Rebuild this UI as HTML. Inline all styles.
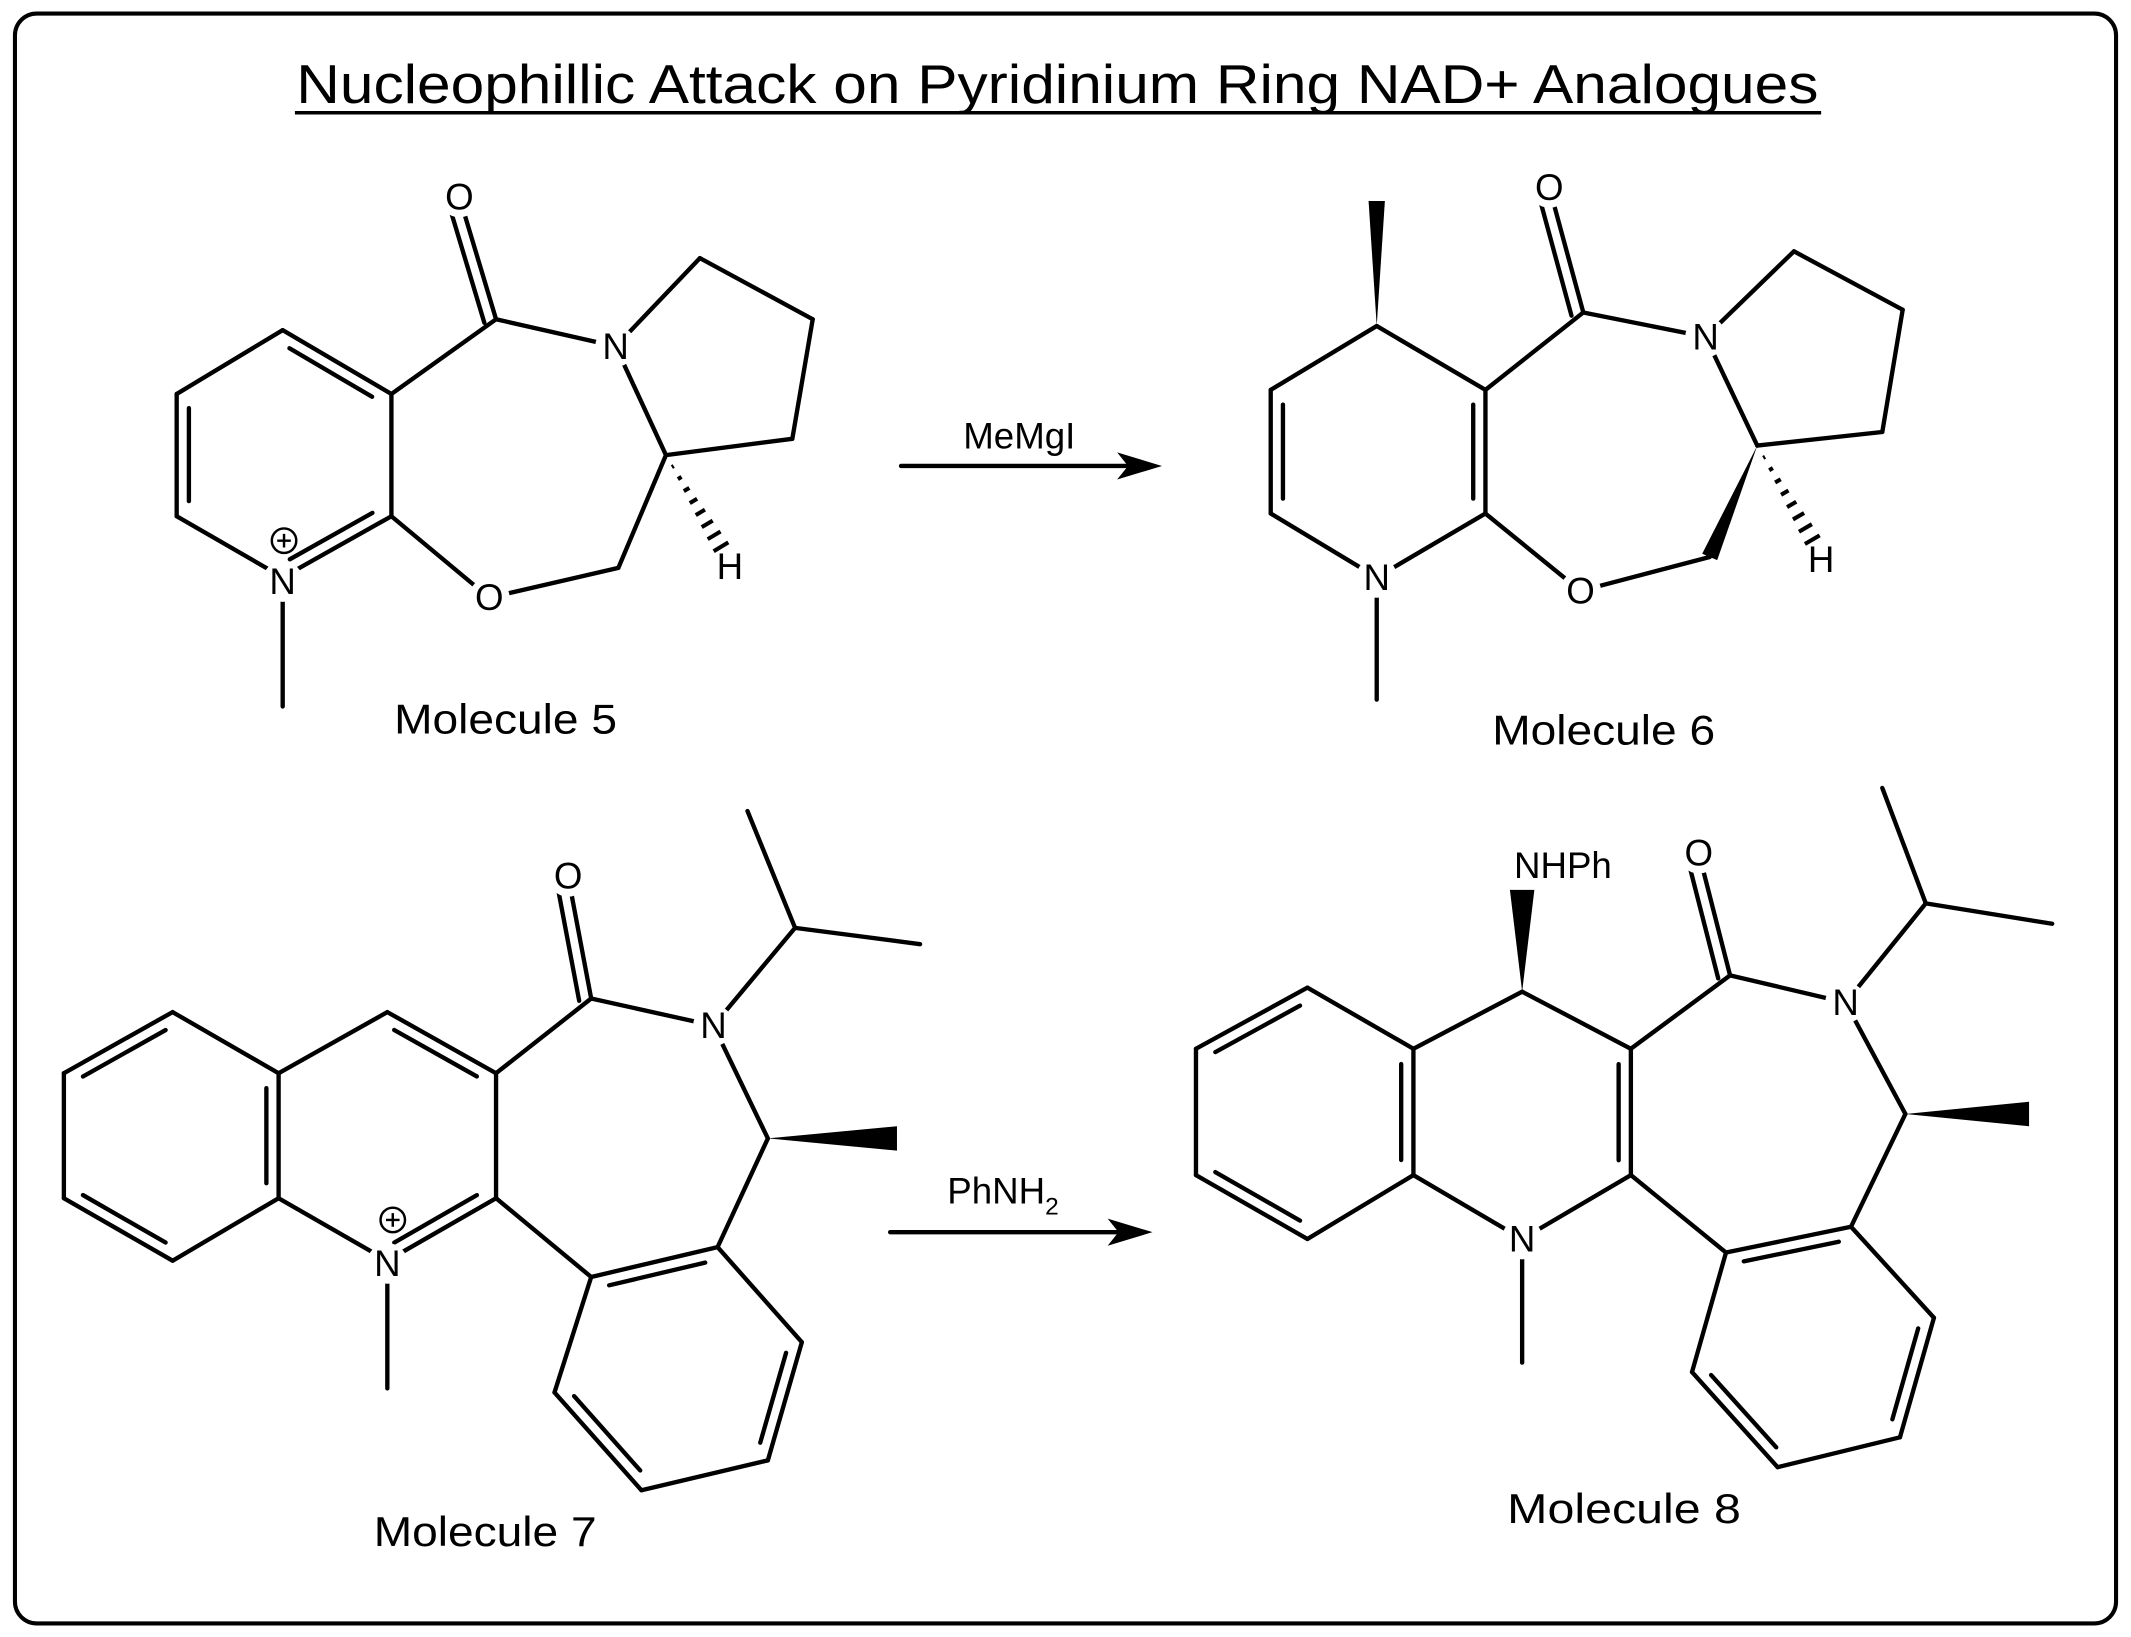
<!DOCTYPE html>
<html><head><meta charset="utf-8"><style>
html,body{margin:0;padding:0;background:#fff}
svg{display:block}
.b{stroke:#000;stroke-width:3.2;fill:none;stroke-linecap:round}
.a{font-family:"Liberation Sans",sans-serif;font-size:27px;fill:#000;text-anchor:middle;dominant-baseline:central}
.l{font-family:"Liberation Sans",sans-serif;font-size:31px;fill:#000;text-anchor:middle}
</style></head><body>
<svg id="s" width="2131" height="1637" viewBox="0 0 1568 1205" preserveAspectRatio="none" xmlns="http://www.w3.org/2000/svg">
<rect x="11" y="10" width="1546" height="1185" rx="16" fill="none" stroke="#000" stroke-width="3"/>
<text x="778" y="76" class="l" style="font-size:40px" textLength="1120" lengthAdjust="spacingAndGlyphs">Nucleophillic Attack on Pyridinium Ring NAD+ Analogues</text>
<line x1="217" y1="83" x2="1340" y2="83" stroke="#000" stroke-width="2.5"/>
<g id="g"></g>
<path class="b" d="M663 343H845"/><path d="M855 343L822 333L830 343L822 353Z"/>
<text x="750" y="330" class="l" style="font-size:27px">MeMgI</text>
<path class="b" d="M655 907H838"/><path d="M848 907L815 897L823 907L815 917Z"/>
<text x="738" y="886" class="l" style="font-size:27px">PhNH<tspan font-size="18" dy="8">2</tspan></text>
<text x="372" y="540" class="l" textLength="164" lengthAdjust="spacingAndGlyphs">Molecule 5</text>
<text x="1180" y="548" class="l" textLength="164" lengthAdjust="spacingAndGlyphs">Molecule 6</text>
<text x="357" y="1138" class="l" textLength="164" lengthAdjust="spacingAndGlyphs">Molecule 7</text>
<text x="1195" y="1121" class="l" textLength="172" lengthAdjust="spacingAndGlyphs">Molecule  8</text>
</svg>
<script>
const g=document.getElementById('g');const NS='http://www.w3.org/2000/svg';
function L(a,b,c,d){const e=document.createElementNS(NS,'line');e.setAttribute('x1',a);e.setAttribute('y1',b);e.setAttribute('x2',c);e.setAttribute('y2',d);e.setAttribute('class','b');g.appendChild(e);}
function P(pts){for(let i=0;i<pts.length-1;i++)L(pts[i][0],pts[i][1],pts[i+1][0],pts[i+1][1]);}
function D(a,b,c,d,cx,cy){let mx=(a+c)/2,my=(b+d)/2,vx=cx-mx,vy=cy-my,n=Math.hypot(vx,vy);vx*=9/n;vy*=9/n;let t=0.12;L(a+(c-a)*t+vx,b+(d-b)*t+vy,c-(c-a)*t+vx,d-(d-b)*t+vy);}
function C(a,b,c,d,s){let dx=c-a,dy=d-b,n=Math.hypot(dx,dy),ox=-dy/n*s,oy=dx/n*s;L(a,b,c,d);L(a+ox,b+oy+0,c+ox,d+oy);}
function W(a,b,c,d,w){let dx=c-a,dy=d-b,n=Math.hypot(dx,dy),ox=-dy/n*w,oy=dx/n*w;const e=document.createElementNS(NS,'polygon');e.setAttribute('points',`${a},${b} ${c+ox},${d+oy} ${c-ox},${d-oy}`);g.appendChild(e);}
function H(a,b,c,d,w){let dx=c-a,dy=d-b,n=Math.hypot(dx,dy),px=-dy/n,py=dx/n;for(let i=1;i<=8;i++){let t=i/8*0.9,x=a+dx*t,y=b+dy*t,h=w*t;const e=document.createElementNS(NS,'line');e.setAttribute('x1',x+px*h);e.setAttribute('y1',y+py*h);e.setAttribute('x2',x-px*h);e.setAttribute('y2',y-py*h);e.setAttribute('stroke','#000');e.setAttribute('stroke-width','3');g.appendChild(e);}}
function T(x,y,s,r){const c=document.createElementNS(NS,'circle');c.setAttribute('cx',x);c.setAttribute('cy',y);c.setAttribute('r',r||15);c.setAttribute('fill','#fff');g.appendChild(c);const e=document.createElementNS(NS,'text');e.setAttribute('x',x);e.setAttribute('y',y);e.setAttribute('class','a');e.textContent=s;g.appendChild(e);return e;}
function PL(x,y){const c=document.createElementNS(NS,'circle');c.setAttribute('cx',x);c.setAttribute('cy',y);c.setAttribute('r',9);c.setAttribute('fill','#fff');c.setAttribute('stroke','#000');c.setAttribute('stroke-width','1.8');g.appendChild(c);const p=document.createElementNS(NS,'path');p.setAttribute('d',`M${x-5} ${y}H${x+5}M${x} ${y-5}V${y+5}`);p.setAttribute('stroke','#000');p.setAttribute('stroke-width','1.8');g.appendChild(p);}
// Molecule 5
P([[208,243],[288,290],[288,380],[208,425],[130,380],[130,290],[208,243]]);
D(208,243,288,290,209,332);D(130,290,130,380,209,332);D(208,425,288,380,209,332);
P([[288,290],[365,235],[453,255]]);C(365,235,338,145,-9);
P([[453,255],[515,190],[598,235],[583,323],[490,335],[453,255]]);
P([[490,335],[455,418],[360,440],[288,380]]);
H(490,335,535,410,7);L(208,425,208,520);
T(338,145,'O');T(453,255,'N');T(360,440,'O');T(208,428,'N');T(537,417,'H',12);PL(209,398);
// Molecule 6
P([[1013,240],[1093,287],[1093,378],[1013,425],[935,378],[935,287],[1013,240]]);
D(935,287,935,378,1014,332);D(1093,287,1093,378,1014,332);
W(1013,240,1013,148,6);
P([[1093,287],[1165,230],[1255,248]]);C(1165,230,1140,138,-9);
P([[1255,248],[1320,185],[1400,228],[1385,318],[1293,328],[1255,248]]);
W(1293,328,1258,410,6);P([[1258,410],[1163,435],[1093,378]]);
H(1293,328,1338,405,7);L(1013,425,1013,515);
T(1140,138,'O');T(1255,248,'N');T(1163,435,'O');T(1013,425,'N');T(1340,412,'H',12);
// Molecule 7
P([[127,745],[205,790],[205,882],[127,928],[47,882],[47,790],[127,745]]);
D(47,790,127,745,126,836);D(47,882,127,928,126,836);D(205,790,205,882,126,836);
P([[205,790],[285,745],[365,790],[365,882],[285,928],[205,882]]);
D(285,745,365,790,285,836);D(285,928,365,882,285,836);
P([[365,790],[435,735],[525,755]]);C(435,735,418,645,-9);
P([[525,755],[585,683],[550,597]]);L(585,683,677,695);
P([[525,755],[565,838],[528,918]]);W(565,838,660,838,9);
P([[528,918],[435,940],[408,1025],[472,1097],[565,1075],[590,988],[528,918]]);
D(435,940,528,918,500,1008);D(408,1025,472,1097,500,1008);D(565,1075,590,988,500,1008);
L(435,940,365,882);L(285,928,285,1022);
T(418,645,'O');T(525,755,'N');T(285,930,'N');PL(289,898);
// Molecule 8
P([[962,727],[1040,772],[1040,865],[962,912],[880,865],[880,772],[962,727]]);
D(880,772,962,727,960,819);D(880,865,962,912,960,819);D(1040,772,1040,865,960,819);
P([[1040,772],[1120,730],[1200,772],[1200,865],[1120,912],[1040,865]]);
D(1200,772,1200,865,1120,820);
W(1120,730,1120,655,9);
P([[1200,772],[1273,718],[1358,738]]);C(1273,718,1250,628,-9);
P([[1358,738],[1417,665],[1385,580]]);L(1417,665,1510,680);
P([[1358,738],[1402,820],[1362,903]]);W(1402,820,1493,820,9);
P([[1362,903],[1270,922],[1245,1010],[1308,1080],[1398,1058],[1423,970],[1362,903]]);
D(1270,922,1362,903,1334,990);D(1245,1010,1308,1080,1334,990);D(1398,1058,1423,970,1334,990);
L(1270,922,1200,865);L(1120,912,1120,1003);
T(1250,628,'O');T(1358,738,'N');T(1120,912,'N');T(1150,637,'NHPh',1);
</script>
</body></html>
